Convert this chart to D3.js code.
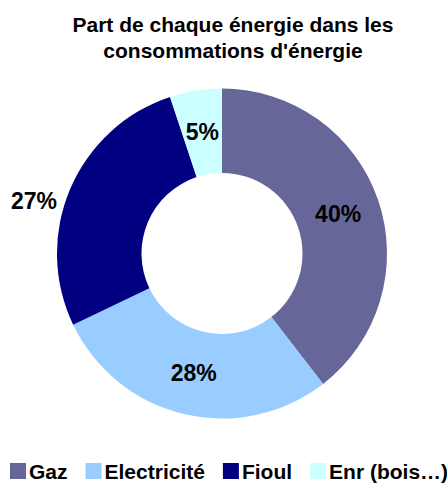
<!DOCTYPE html>
<html>
<head>
<meta charset="utf-8">
<script src="https://cdn.jsdelivr.net/npm/d3@7"></script>
<style>
  body { margin: 0; background: #fff; }
  text { font-family: "Liberation Sans", Arial, sans-serif; font-weight: bold; fill: #000; }
</style>
</head>
<body>
<script>
// data
const categories = ["Gaz", "Electricité", "Fioul", "Enr (bois…)"];
const values = [39.5, 28.4, 27.0, 5.1];
const colors = ["#666699", "#99CCFF", "#000080", "#CCFFFF"];
const titleLines = ["Part de chaque énergie dans les", "consommations d'énergie"];

const W = 447, H = 483;
const cx = 222, cy = 253.5;
const outerR = 165, innerR = 80.5;

const svg = d3.select("body").append("svg")
  .attr("width", W)
  .attr("height", H);

// title
svg.selectAll("text.title")
  .data(titleLines)
  .enter().append("text")
  .attr("class", "title")
  .attr("x", 233)
  .attr("y", (d, i) => 31.5 + i * 26)
  .attr("text-anchor", "middle")
  .attr("font-size", 21)
  .text(d => d);

const data = categories.map((c, i) => ({ name: c, value: values[i], color: colors[i] }));

const pie = d3.pie().value(d => d.value).sort(null);
const arc = d3.arc().innerRadius(innerR).outerRadius(outerR);
const arcs = pie(data);

const g = svg.append("g").attr("transform", `translate(${cx},${cy})`);

g.selectAll("path")
  .data(arcs)
  .enter().append("path")
  .attr("d", arc)
  .attr("fill", d => d.data.color);

// percent labels; Fioul's label sits outside on the left like the original
const total = d3.sum(values);
g.selectAll("text.lbl")
  .data(arcs)
  .enter().append("text")
  .attr("class", "lbl")
  .attr("font-size", 23)
  .attr("text-anchor", d => d.data.name === "Fioul" ? "end" : "middle")
  .attr("x", d => d.data.name === "Fioul" ? -outerR : arc.centroid(d)[0])
  .attr("y", d => d.data.name === "Fioul" ? arc.centroid(d)[1] + 4 : arc.centroid(d)[1] + 8)
  .text(d => Math.round(d.data.value / total * 100) + "%");

// legend
const legend = svg.append("g");
let lx = 10;
data.forEach(d => {
  legend.append("rect")
    .attr("x", lx)
    .attr("y", 463)
    .attr("width", 16)
    .attr("height", 16)
    .attr("fill", d.color);
  const t = legend.append("text")
    .attr("x", lx + 19)
    .attr("y", 479)
    .attr("font-size", 21)
    .text(d.name);
  lx += 19 + t.node().getComputedTextLength() + 18;
});
</script>
</body>
</html>
